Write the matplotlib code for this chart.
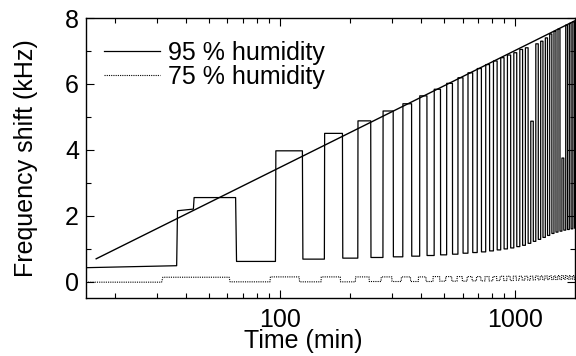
import matplotlib
matplotlib.use("Agg")
import matplotlib.pyplot as plt
from matplotlib.ticker import LogLocator, NullFormatter, FixedLocator, MultipleLocator

plt.rcParams['font.family'] = ['Liberation Sans', 'DejaVu Sans']

# ---- 95 % humidity (solid) ----
lead_t = [15, 36.5, 36.8, 43.0, 43.3]
lead_v = [0.42, 0.48, 2.15, 2.20, 2.55]
pulse_on = [36.5, 96, 155, 215, 275, 334, 394, 454, 513, 573, 632, 692, 752, 811, 871,
            930, 990, 1050, 1109, 1169, 1228, 1288, 1348, 1407, 1467, 1526, 1586, 1646, 1705, 1765]
pulse_off = [65, 125, 185, 244, 304, 364, 423, 483, 543, 602, 662, 721, 781, 841, 900,
             960, 1019, 1079, 1139, 1198, 1258, 1317, 1377, 1437, 1496, 1556, 1615, 1675, 1735, 1794]
pulse_top = [2.55, 3.97, 4.50, 4.88, 5.18, 5.40, 5.64, 5.84, 6.02, 6.19, 6.34, 6.47, 6.59, 6.70, 6.80,
             6.88, 6.95, 7.05, 7.10, 4.87, 7.22, 7.30, 7.40, 7.52, 7.60, 7.67, 3.75, 7.79, 7.84, 7.89]
base_low = [0.61, 0.68, 0.71, 0.73, 0.75, 0.77, 0.79, 0.81, 0.83, 0.86, 0.88, 0.90, 0.93, 0.96, 0.99,
            1.02, 1.06, 1.10, 1.16, 1.22, 1.28, 1.34, 1.40, 1.46, 1.50, 1.53, 1.56, 1.58, 1.60, 1.62]

# ---- 75 % humidity (dotted) ----
dot_lead_t = [15, 31.5]
dot_lead_v = [-0.02, -0.02]
dot_on = [31.5, 91, 150, 210, 270, 329, 389, 449, 508, 568, 627, 687, 747, 806, 866,
          925, 985, 1045, 1104, 1164, 1223, 1283, 1343, 1402, 1462, 1521, 1581, 1641, 1700, 1760]
dot_off = [61, 121, 181, 240, 300, 360, 419, 479, 539, 598, 658, 717, 777, 837, 896,
           956, 1015, 1075, 1135, 1194, 1254, 1313, 1373, 1433, 1492, 1552, 1611, 1671, 1731, 1790]
dot_high = [0.13, 0.14, 0.14, 0.14, 0.14, 0.14, 0.14, 0.15, 0.15, 0.15, 0.15, 0.15, 0.15, 0.15, 0.16,
            0.16, 0.16, 0.16, 0.16, 0.16, 0.17, 0.17, 0.17, 0.17, 0.17, 0.18, 0.18, 0.18, 0.18, 0.18]
dot_low = [-0.01, -0.01, -0.01, 0.00, 0.00, 0.00, 0.00, 0.01, 0.01, 0.01, 0.02, 0.02, 0.02, 0.03, 0.03,
           0.03, 0.04, 0.04, 0.04, 0.05, 0.05, 0.05, 0.06, 0.06, 0.06, 0.06, 0.07, 0.07, 0.07, 0.07]

# ---- log fit line ----
fit_t = [16.6, 1800]
fit_v = [0.69, 7.92]

x_ticks = [100, 1000]
y_ticks = [0, 2, 4, 6, 8]


def build(lead_t, lead_v, on, off, top, low, first_has_lead):
    t = list(lead_t)
    v = list(lead_v)
    for i, (a, b, h, l) in enumerate(zip(on, off, top, low)):
        if not (i == 0 and first_has_lead):
            t += [a, a + 0.4]
            v += [v[-1], h]
        t += [b, b + 0.6]
        v += [h, l]
    t.append(1850)
    v.append(v[-1])
    return t, v


st, sv = build(lead_t, lead_v, pulse_on, pulse_off, pulse_top, base_low, True)
dt, dv = build(dot_lead_t, dot_lead_v, dot_on, dot_off, dot_high, dot_low, False)

FS = 18

fig = plt.figure(figsize=(5.76, 3.56), dpi=100)
ax = fig.add_axes([0.149, 0.163, 0.849, 0.786])

ax.plot(st, sv, color='black', lw=0.9, label='95 % humidity')
ax.plot(dt, dv, color='black', lw=0.8, linestyle=(0, (1, 1)), label='75 % humidity')
ax.plot(fit_t, fit_v, color='black', lw=1.0)

ax.set_xscale('log')
ax.set_xlim(15, 1800)
ax.set_ylim(-0.5, 8)
ax.xaxis.set_major_locator(FixedLocator(x_ticks))
ax.set_xticklabels([str(x) for x in x_ticks])
ax.xaxis.set_minor_locator(LogLocator(base=10, subs=range(2, 10)))
ax.xaxis.set_minor_formatter(NullFormatter())
ax.yaxis.set_major_locator(FixedLocator(y_ticks))
ax.yaxis.set_minor_locator(MultipleLocator(1))

ax.tick_params(which='both', direction='in', top=True, right=True, width=0.8, labelsize=FS)
ax.tick_params(which='major', length=6)
ax.tick_params(axis='x', which='major', pad=7)
ax.tick_params(axis='y', which='major', pad=5)
ax.tick_params(which='minor', length=3.5)
for s in ax.spines.values():
    s.set_linewidth(1.0)

ax.set_xlabel('Time (min)', fontsize=FS)
ax.set_ylabel('Frequency shift (kHz)', fontsize=FS)
ax.xaxis.set_label_coords((304 - 86) / 490, -0.112)
ax.yaxis.set_label_coords(-0.097, 0.5)

leg = ax.legend(loc='upper left', bbox_to_anchor=(0.037, 0.92), frameon=False, fontsize=FS,
                handlelength=2.24, handletextpad=0.32, labelspacing=0.0, borderpad=0.0,
                borderaxespad=0.0)

fig.savefig('out.png', dpi=100)
